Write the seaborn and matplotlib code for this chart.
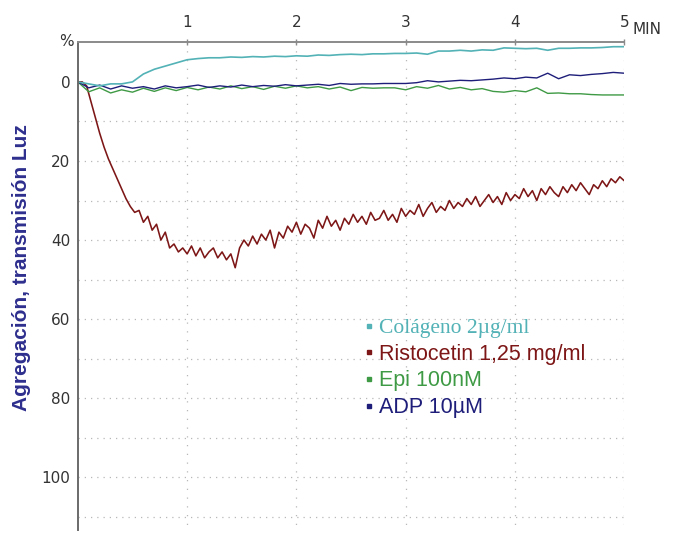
import numpy as np
import pandas as pd
import seaborn as sns
import matplotlib.pyplot as plt
from matplotlib.lines import Line2D

# %% data (minutes, % light transmission; axis inverted)
t_risto = np.linspace(0, 5, 126)
risto = [0, 0, 1, 5, 9, 13, 16.5, 19.5, 22, 24.5,
         27, 29.5, 31.5, 33, 32.5, 35.5, 34, 37.5, 36, 40,
         38, 42, 41, 43, 42, 43.5, 41.5, 44, 42, 44.5,
         43, 42, 44.5, 43, 45, 43.5, 47, 42, 40, 41.5,
         39, 41, 38.5, 40, 37.5, 42, 38, 39.5, 36.5, 38,
         35.5, 38.5, 36, 37, 39.5, 35, 37, 34, 36.5, 35,
         37.5, 34.5, 36, 33.5, 35.5, 34, 36, 33, 35, 34.5,
         32.5, 35, 33.5, 35.5, 32, 34, 32.5, 33.5, 31, 34,
         32, 30.5, 33, 31.5, 32.5, 30, 32, 30.5, 31.5, 29.5,
         31, 29, 31.5, 30, 28.5, 30.5, 29, 31, 28, 30,
         28.5, 29.5, 27, 29, 27.5, 30, 27, 28.5, 26.5, 28,
         29, 26.5, 28, 26, 27.5, 25.5, 27, 28.5, 26, 27,
         25, 26.5, 24.5, 25.5, 24, 25]

t_slow = np.linspace(0, 5, 51)
colageno = [0, 0.5, 1, 0.5, 0.5, 0, -2, -3.2, -4, -4.8,
            -5.6, -5.9, -6.1, -6.1, -6.3, -6.2, -6.4, -6.3, -6.5, -6.4,
            -6.6, -6.5, -6.8, -6.7, -6.9, -7.0, -6.9, -7.1, -7.1, -7.2,
            -7.2, -7.3, -7.0, -7.8, -7.8, -8.0, -7.8, -8.1, -8.0, -8.6,
            -8.5, -8.4, -8.5, -8.0, -8.5, -8.5, -8.6, -8.6, -8.7, -8.9,
            -8.9]
adp = [0, 1.5, 0.8, 1.8, 1.0, 1.6, 1.2, 1.8, 1.0, 1.5,
       1.2, 0.8, 1.4, 1.0, 1.3, 0.8, 1.2, 0.9, 1.1, 0.7,
       1.0, 0.8, 0.6, 0.9, 0.4, 0.6, 0.5, 0.5, 0.4, 0.4,
       0.4, 0.2, -0.3, 0.0, -0.2, -0.4, -0.3, -0.5, -0.7, -1.0,
       -0.8, -1.2, -1.0, -2.2, -0.8, -1.8, -1.6, -1.9, -2.1, -2.4,
       -2.2]
epi = [0, 2.5, 1.5, 2.8, 2.0, 2.6, 1.6, 2.4, 1.5, 2.2,
       1.4, 2.0, 1.3, 1.8, 1.0, 1.7, 1.2, 1.9, 1.1, 1.6,
       1.0, 1.5, 1.2, 1.8, 1.3, 2.2, 1.4, 1.6, 1.5, 1.5,
       2.0, 1.2, 1.6, 0.9, 1.8, 1.4, 2.0, 1.7, 2.4, 2.6,
       2.2, 2.5, 1.5, 2.9, 2.8, 3.0, 3.0, 3.2, 3.3, 3.3,
       3.3]

labels = ["Colágeno 2\u00b5g/ml", "Ristocetin 1,25 mg/ml", "Epi 100nM", "ADP 10\u00b5M"]
colors = ["#52b2b6", "#7d1616", "#3f9a45", "#1e1e7a"]
y_ticks = [0, 20, 40, 60, 80, 100]
x_ticks = [1, 2, 3, 4, 5]

# %% plot
sns.set_style("white")
narrow = ['Liberation Sans Narrow', 'DejaVu Sans']

fig = plt.figure(figsize=(6.77, 5.45), dpi=100)
ax = fig.add_axes([0.115, 0.027, 0.807, 0.896])

sns.lineplot(x=t_risto, y=risto, color=colors[1], lw=1.15, ax=ax)
sns.lineplot(x=t_slow, y=epi, color=colors[2], lw=1.0, ax=ax)
sns.lineplot(x=t_slow, y=adp, color=colors[3], lw=1.0, ax=ax)
sns.lineplot(x=t_slow, y=colageno, color=colors[0], lw=1.2, ax=ax)

ax.set_xlim(0, 5)
ax.set_ylim(113.4, -10.1)

# grid
for yv in range(10, 111, 10):
    ax.plot([0, 5], [yv, yv], ls=(0, (1, 4)), color="#b8b8b8", lw=0.9, zorder=0)
for xv in x_ticks:
    ax.plot([xv, xv], [-10, 113.4], ls=(0, (1, 6)), color="#b8b8b8", lw=0.9, zorder=0)

for s in ["right", "bottom"]:
    ax.spines[s].set_visible(False)
ax.spines["top"].set_color("#8a8a8a")
ax.spines["top"].set_linewidth(1.4)
ax.spines["left"].set_color("#6a6a6a")
ax.spines["left"].set_linewidth(1.4)

ax.xaxis.tick_top()
ax.set_xticks(x_ticks)
ax.set_xticklabels([str(v) for v in x_ticks], family=narrow, fontsize=11, color="#333333")
ax.set_yticks(y_ticks)
ax.set_yticklabels([str(v) for v in y_ticks], family=narrow, fontsize=11, color="#333333")
ax.tick_params(axis="x", direction="inout", length=5, width=1, color="#8a8a8a", pad=6)
ax.tick_params(axis="y", direction="inout", length=7, width=1, color="#555555", pad=2)

ax.set_ylabel("Agregación, transmisión Luz", fontsize=15, fontweight="bold",
              color="#2e2e8e", family=['Liberation Sans', 'DejaVu Sans'])
ax.yaxis.set_label_coords(-0.085, 0.539)

fig.text(0.088, 0.923, "%", family=narrow, fontsize=11, color="#333333", va="center")
fig.text(0.935, 0.945, "MIN", family=narrow, fontsize=11, color="#333333", va="center")

handles = [Line2D([], [], marker="s", ls="", color=c, ms=3) for c in colors]
leg = ax.legend(handles, labels, loc="upper left", bbox_to_anchor=(0.51, 0.452),
                frameon=False, handlelength=0.4, handletextpad=0.25,
                labelspacing=0.26, fontsize=15.5, borderaxespad=0)
for txt, c in zip(leg.get_texts(), colors):
    txt.set_color(c)
    txt.set_family(['Liberation Sans', 'DejaVu Sans'])
leg.get_texts()[0].set_family(['Liberation Serif', 'DejaVu Serif'])

fig.savefig("out.png", dpi=100)
